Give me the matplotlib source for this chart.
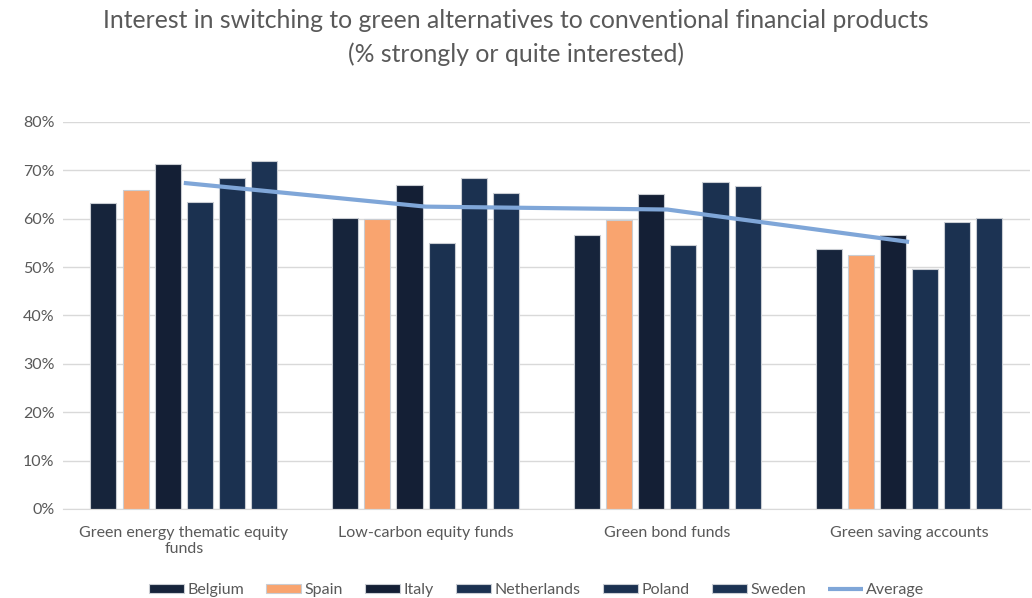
import numpy as np
import matplotlib.pyplot as plt

categories = ['Green energy thematic equity\nfunds', 'Low-carbon equity funds',
              'Green bond funds', 'Green saving accounts']
countries = ['Belgium', 'Spain', 'Italy', 'Netherlands', 'Poland', 'Sweden']
values = {
    'Belgium':     [63.2, 60.1, 56.6, 53.7],
    'Spain':       [65.9, 59.9, 59.7, 52.5],
    'Italy':       [71.3, 66.9, 65.1, 56.6],
    'Netherlands': [63.4, 55.0, 54.5, 49.6],
    'Poland':      [68.4, 68.4, 67.6, 59.3],
    'Sweden':      [71.9, 65.3, 66.7, 60.1],
}
average = [67.4, 62.5, 61.9, 55.2]
colors = ['#16243B', '#F9A46F', '#141F35', '#1B3150', '#1B3150', '#1C3353']

plt.rcParams['font.family'] = ['Lato', 'DejaVu Sans']

fig = plt.figure(figsize=(10.32, 5.98), dpi=100)
ax = fig.add_axes([0.061, 0.149, 0.937, 0.647])

x = np.arange(len(categories))
pitch = 0.133
width = 0.108
for i, c in enumerate(countries):
    ax.bar(x + (i - 2.5) * pitch, np.array(values[c]) / 100, width,
           color=colors[i], edgecolor='#C9CDD3', linewidth=0.8, label=c, zorder=2)
ax.plot(x, np.array(average) / 100, color='#7FA6D8', linewidth=3,
        label='Average', zorder=3, solid_capstyle='butt')

ax.set_ylim(0, 0.8)
ax.set_xlim(-0.5, 3.5)
ax.set_yticks(np.arange(0, 0.81, 0.1))
ax.set_yticklabels([f'{int(round(v * 100))}%' for v in np.arange(0, 0.81, 0.1)])
ax.set_xticks(x)
ax.set_xticklabels(categories)
ax.tick_params(axis='both', length=0, labelsize=11.5, colors='#595959', pad=6)
ax.tick_params(axis='x', pad=12)
ax.grid(axis='y', color='#D9D9D9', linewidth=1, zorder=0)
ax.set_axisbelow(True)
for s in ['top', 'right', 'left']:
    ax.spines[s].set_visible(False)
ax.spines['bottom'].set_color('#D9D9D9')

fig.suptitle('Interest in switching to green alternatives to conventional financial products\n(% strongly or quite interested)',
             y=0.985, fontsize=17.8, color='#595959', linespacing=1.55)

handles, labels = ax.get_legend_handles_labels()
order = [1, 2, 3, 4, 5, 6, 0]
leg = fig.legend([handles[i] for i in order], [labels[i] for i in order],
                 loc='lower center', bbox_to_anchor=(0.52, -0.022), ncol=7, frameon=False,
                 fontsize=11.5, handlelength=2.2, handleheight=0.5, columnspacing=1.4,
                 handletextpad=0.2)
for t in leg.get_texts():
    t.set_color('#595959')

plt.savefig('out.png', dpi=100)
